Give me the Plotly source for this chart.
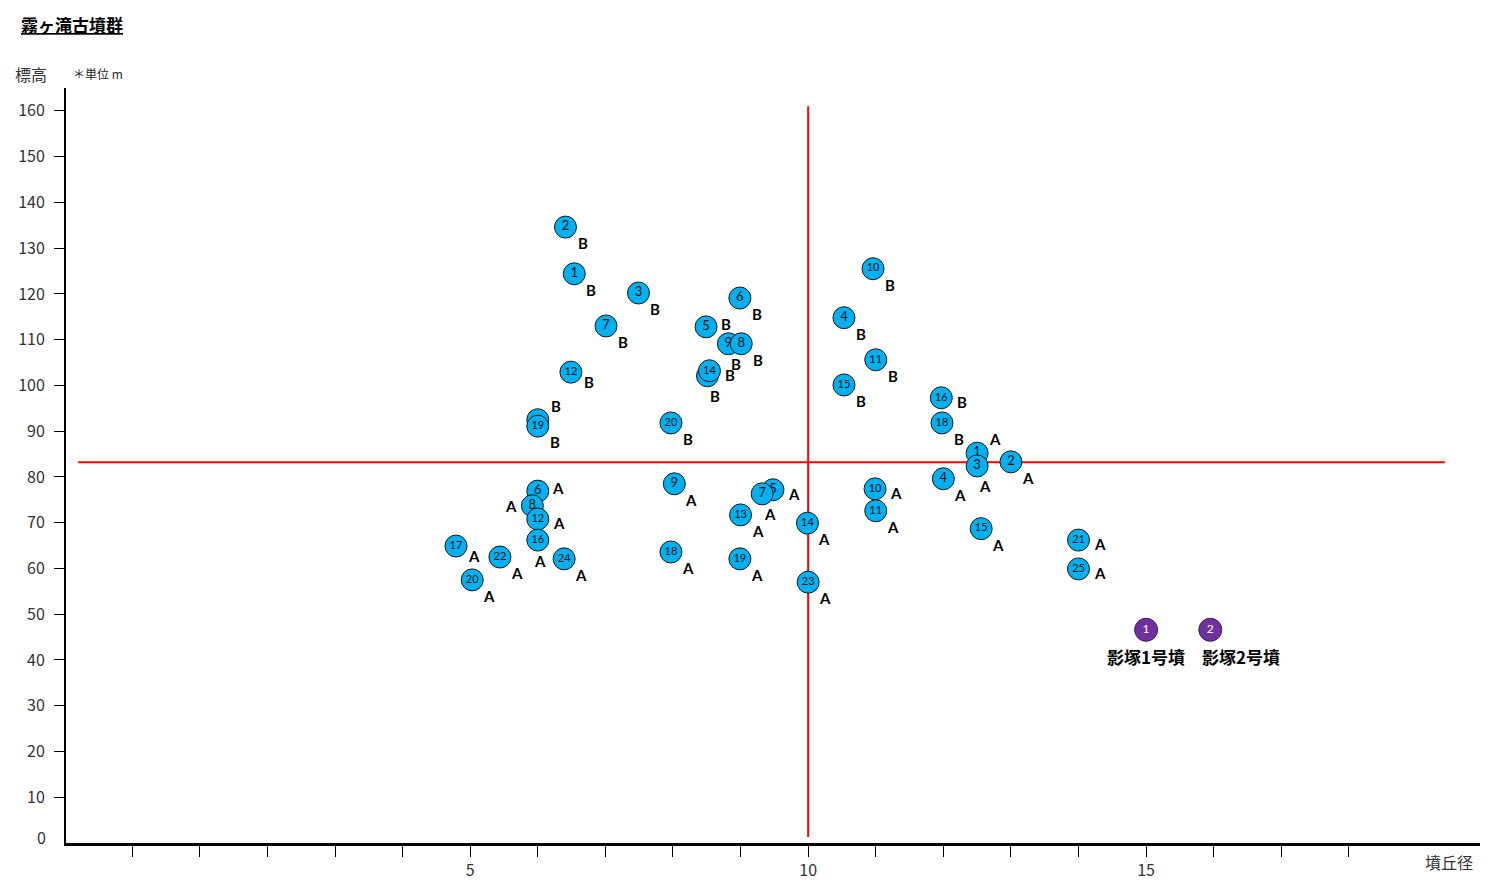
import plotly.graph_objects as go

# ---------------- data ----------------
# Group B (upper) sites: number inside circle, diameter (x), elevation (y)
b_num = ["2", "1", "3", "7", "12", "", "19", "5", "6", "9", "8", "", "14", "20",
         "10", "4", "11", "15", "16", "18"]
b_x = [6.41, 6.54, 7.49, 7.01, 6.49, 6.0, 6.0, 8.49, 8.99, 8.82, 9.01, 8.51, 8.54, 7.97,
       10.96, 10.53, 11.0, 10.53, 11.97, 11.98]
b_y = [134.6, 124.4, 120.2, 113.0, 102.9, 92.5, 91.1, 112.8, 119.1, 109.1, 109.1, 102.1, 103.2, 91.8,
       125.5, 114.8, 105.6, 100.1, 97.3, 91.8]

# Group A (lower) sites
a_num = ["1", "3", "2", "4", "10", "11", "15", "21", "25", "14", "23", "5", "7", "13",
         "19", "9", "18", "6", "8", "12", "16", "17", "22", "24", "20"]
a_x = [12.5, 12.5, 13.0, 12.0, 10.99, 11.0, 12.56, 14.0, 14.0, 9.99, 10.0, 9.48, 9.32, 9.0,
       8.99, 8.02, 7.97, 6.0, 5.92, 6.0, 6.0, 4.79, 5.44, 6.39, 5.03]
a_y = [85.2, 82.4, 83.3, 79.6, 77.4, 72.6, 68.7, 66.2, 59.9, 69.9, 57.0, 77.2, 76.3, 71.7,
       62.1, 78.5, 63.6, 76.9, 73.7, 70.8, 66.2, 64.9, 62.5, 62.1, 57.5]

# Kagezuka tumuli
k_num = ["1", "2"]
k_x = [15.0, 15.95]
k_y = [46.6, 46.6]
k_label = ["影塚1号墳", "影塚2号墳"]

# reference lines
ref_x = 10
ref_x_span = [1.3, 161]
ref_y = 83.2
ref_y_span = [-0.8, 19.42]

x_ticks = list(range(0, 19))
x_ticktext = [str(v) if v in (5, 10, 15) else "" for v in x_ticks]
y_ticks = list(range(10, 161, 10))

# ---------------- style ----------------
# placement codes of the A / B letters (pixel offsets, right / down)
b_pos = ["br", "br", "br", "br", "rb", "tr", "br", "ru", "br", "b", "br", "b", "r", "br",
         "br", "br", "br", "br", "r", "br"]
a_pos = ["tr", "b", "br", "br", "r", "br", "br", "r", "r", "br", "br", "r", "b", "br",
         "br", "br", "br", "ru", "l", "r", "bc", "rb", "br", "br", "br"]
k_pos = [(0, 27), (31, 27)]
OFF = {"br": (17, 16), "r": (21, 4), "ru": (20, -3), "rb": (18, 10), "tr": (18, -14),
       "b": (8, 20), "bc": (2, 21), "l": (-21, 0)}

BLUE = "#00B0F0"
PURPLE = "#7030A0"
NUMFONT = "Lato, 'Noto Sans', sans-serif"
JP = "'Noto Sans CJK JP', sans-serif"

fig = go.Figure()

annotations = []


def add_site(x, y, num, letter, pos):
    size = 13 if len(num) < 2 else 11
    fig.add_trace(go.Scatter(
        x=[x], y=[y], mode="markers+text", text=[num], textposition="middle center",
        textfont=dict(family=NUMFONT, size=size, color="#111111"),
        marker=dict(size=22, color=BLUE, line=dict(color="#1a1a1a", width=1)),
        hoverinfo="skip", showlegend=False, cliponaxis=False))
    dx, dy = OFF[pos]
    annotations.append(dict(x=x, y=y, xref="x", yref="y", text="<b>" + letter + "</b>",
                            showarrow=False, xshift=dx, yshift=-dy,
                            font=dict(family=NUMFONT, size=15, color="#000000")))


for x, y, n, p in zip(b_x, b_y, b_num, b_pos):
    add_site(x, y, n, "B", p)
for x, y, n, p in zip(a_x, a_y, a_num, a_pos):
    add_site(x, y, n, "A", p)

for x, y, n, lab, (dx, dy) in zip(k_x, k_y, k_num, k_label, k_pos):
    fig.add_trace(go.Scatter(
        x=[x], y=[y], mode="markers+text", text=[n], textposition="middle center",
        textfont=dict(family=NUMFONT, size=12, color="#ffffff"),
        marker=dict(size=23, color=PURPLE, line=dict(color="#3a1d55", width=1)),
        hoverinfo="skip", showlegend=False))
    annotations.append(dict(x=x, y=y, xref="x", yref="y", text="<b>" + lab + "</b>",
                            showarrow=False, xshift=dx, yshift=-dy,
                            font=dict(family=JP, size=17, color="#000000")))

# reference lines
shapes = [
    dict(type="line", xref="x", yref="y", x0=ref_x, x1=ref_x, y0=ref_x_span[0], y1=ref_x_span[1],
         line=dict(color="#FF0000", width=2), layer="below"),
    dict(type="line", xref="x", yref="y", x0=ref_y_span[0], x1=ref_y_span[1], y0=ref_y, y1=ref_y,
         line=dict(color="#FF0000", width=2), layer="below"),
]

# texts around the plot
L, R, T, B = 66, 15, 88, 51
W, H = 1495, 894
PW, PH = W - L - R, H - T - B


def px(xp):
    return (xp - L) / PW


def py(yp):
    return (H - B - yp) / PH


annotations += [
    dict(xref="paper", yref="paper", x=px(19), y=py(24), xanchor="left", yanchor="middle",
         text="<b><u>霧ヶ滝古墳群</u></b>", showarrow=False,
         font=dict(family=JP, size=17, color="#000000")),
    dict(xref="paper", yref="paper", x=px(13), y=py(74), xanchor="left", yanchor="middle",
         text="標高", showarrow=False, font=dict(family=JP, size=16, color="#333333")),
    dict(xref="paper", yref="paper", x=px(71), y=py(74), xanchor="left", yanchor="middle",
         text="＊単位 m", showarrow=False, font=dict(family=JP, size=12, color="#222222")),
    dict(xref="paper", yref="paper", x=px(1423), y=py(862), xanchor="left", yanchor="middle",
         text="墳丘径", showarrow=False, font=dict(family=JP, size=16, color="#333333")),
    dict(xref="paper", yref="paper", x=px(48), y=py(837), xanchor="right", yanchor="middle",
         text="0", showarrow=False, font=dict(family=JP, size=16, color="#333333")),
]

fig.update_layout(
    width=W, height=H,
    margin=dict(l=L, r=R, t=T, b=B, pad=0),
    paper_bgcolor="white", plot_bgcolor="white",
    showlegend=False,
    shapes=shapes,
    annotations=annotations,
    xaxis=dict(range=[-0.98, 19.94], tickvals=x_ticks, ticktext=x_ticktext,
               ticks="outside", ticklen=11, tickwidth=1, tickcolor="#000000",
               showline=True, linewidth=3, linecolor="#000000", showgrid=False, zeroline=False,
               tickfont=dict(family=JP, size=16, color="#333333")),
    yaxis=dict(range=[0, 165], tickvals=y_ticks, ticks="outside", ticklen=10, tickwidth=1,
               tickcolor="#000000", showline=True, linewidth=2, linecolor="#000000",
               showgrid=False, zeroline=False, ticklabelstandoff=6,
               tickfont=dict(family=JP, size=16, color="#333333")),
)

fig.write_html("out.html")
